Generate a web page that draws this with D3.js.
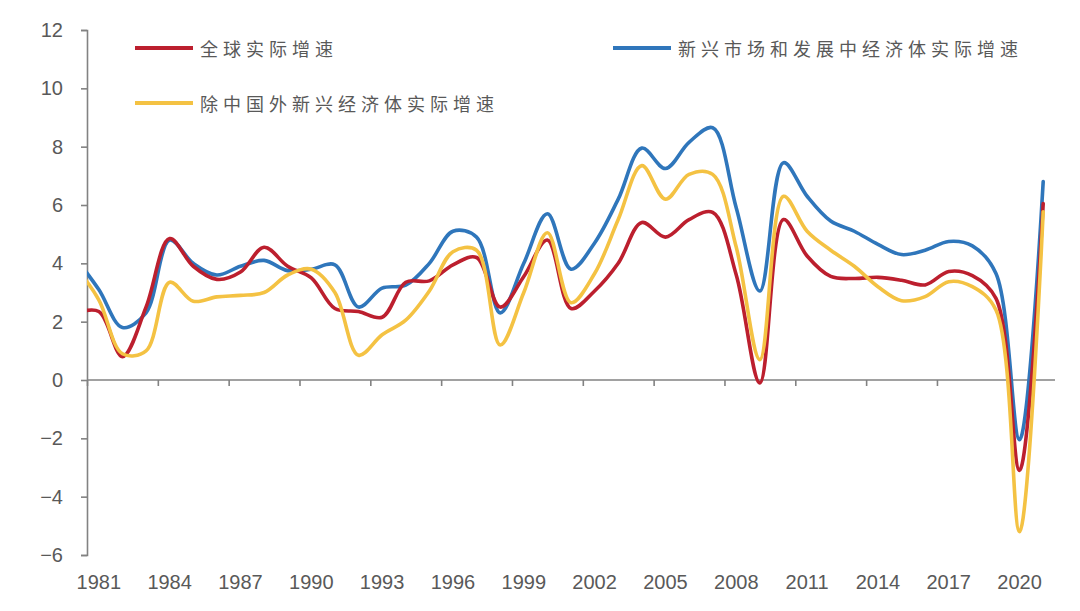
<!DOCTYPE html>
<html>
<head>
<meta charset="utf-8">
<script src="https://cdn.jsdelivr.net/npm/d3@7"></script>
<style>
  html, body { margin: 0; padding: 0; background: #ffffff; }
  svg { display: block; }
</style>
</head>
<body>
<svg id="chart" width="1080" height="611"></svg>
<script>
// ---------- data ----------
const years = d3.range(1980, 2022);
const worldGrowth = [2.3, 2.35, 0.8, 2.5, 4.85, 3.9, 3.45, 3.7, 4.55, 3.9,
  3.5, 2.45, 2.35, 2.15, 3.35, 3.4, 3.95, 4.2, 2.5, 3.55,
  4.8, 2.45, 3.05, 4.0, 5.4, 4.9, 5.5, 5.75, 3.6, -0.1,
  5.5, 4.25, 3.55, 3.48, 3.52, 3.42, 3.26, 3.72, 3.58, 2.8,
  -3.1, 6.05];
const emdeGrowth = [4.2, 3.1, 1.8, 2.3, 4.8, 4.0, 3.6, 3.9, 4.1, 3.75,
  3.8, 3.95, 2.5, 3.15, 3.25, 4.0, 5.1, 4.9, 2.3, 4.0,
  5.7, 3.8, 4.7, 6.2, 7.95, 7.25, 8.15, 8.65, 5.9, 3.05,
  7.45, 6.3, 5.45, 5.1, 4.65, 4.3, 4.45, 4.75, 4.6, 3.65,
  -2.05, 6.8];
const emdeExChinaGrowth = [3.9, 2.75, 0.9, 1.0, 3.35, 2.7, 2.85, 2.9, 3.0, 3.6,
  3.8, 3.0, 0.85, 1.55, 2.05, 3.05, 4.4, 4.45, 1.2, 3.0,
  5.05, 2.65, 3.65, 5.5, 7.35, 6.2, 7.05, 7.05, 4.55, 0.7,
  6.3, 5.1, 4.45, 3.9, 3.2, 2.72, 2.86, 3.37, 3.2, 2.4,
  -5.2, 5.77];
const seriesNames = ["全球实际增速", "新兴市场和发展中经济体实际增速", "除中国外新兴经济体实际增速"];
const seriesColors = ["#BC1F2E", "#2F76BB", "#F4C243"];
const yTicks = [-6, -4, -2, 0, 2, 4, 6, 8, 10, 12];
const xLabelYears = d3.range(1981, 2021, 3);

// ---------- layout ----------
const svg = d3.select("#chart");
const plotLeft = 87, plotRight = 1055, plotTop = 30, plotBottom = 555;

const x = d3.scaleLinear().domain([1980.5, 2021.5]).range([plotLeft, plotRight]);
const y = d3.scaleLinear().domain([-6, 12]).range([plotBottom, plotTop]);

const axisColor = "#828282";
const textColor = "#595959";

// clip
svg.append("defs").append("clipPath").attr("id", "plotclip")
  .append("rect").attr("x", plotLeft).attr("y", 0)
  .attr("width", plotRight - plotLeft + 10).attr("height", 611);

// y axis
const yAxis = d3.axisLeft(y).tickValues(yTicks).tickSize(6).tickPadding(18)
  .tickFormat(d3.format("d"));
const gy = svg.append("g").attr("transform", `translate(${plotLeft},0)`).call(yAxis);
gy.select(".domain").attr("stroke", axisColor).attr("stroke-width", 1.6);
gy.selectAll(".tick line").attr("stroke", axisColor).attr("stroke-width", 1.6);
gy.selectAll(".tick text").attr("fill", textColor)
  .style("font-family", "'Liberation Sans', Arial, sans-serif").style("font-size", "20px");

// x axis at y=0
const xTickVals = d3.range(1980.5, 2021.6, 3);
const xAxis = d3.axisBottom(x).tickValues(xTickVals).tickSize(6).tickFormat("");
const gx = svg.append("g").attr("transform", `translate(0,${y(0)})`).call(xAxis);
gx.select(".domain").attr("stroke", axisColor).attr("stroke-width", 1.6)
  .attr("d", `M${plotLeft},0H${plotRight}`);
gx.selectAll(".tick line").attr("stroke", axisColor).attr("stroke-width", 1.6);

// x labels at bottom
svg.append("g").selectAll("text").data(xLabelYears).join("text")
  .attr("x", d => x(d)).attr("y", 589)
  .attr("text-anchor", "middle")
  .attr("fill", textColor)
  .style("font-family", "'Liberation Sans', Arial, sans-serif").style("font-size", "20px")
  .text(d => d);

// lines
const allSeries = [worldGrowth, emdeGrowth, emdeExChinaGrowth];
const drawOrder = [1, 0, 2];
const line = d3.line()
  .x((d, i) => x(years[i]))
  .y(d => y(d))
  .curve(d3.curveCatmullRom.alpha(0.5));

const gl = svg.append("g").attr("clip-path", "url(#plotclip)");
drawOrder.forEach(k => {
  gl.append("path").datum(allSeries[k])
    .attr("d", line)
    .attr("fill", "none")
    .attr("stroke", seriesColors[k])
    .attr("stroke-width", 3.6)
    .attr("stroke-linejoin", "round")
    .attr("stroke-linecap", "round");
});

// legend
const legendItems = [
  { k: 0, x: 135, y: 48 },
  { k: 1, x: 613, y: 48 },
  { k: 2, x: 135, y: 103 }
];
const lg = svg.append("g");
legendItems.forEach(it => {
  lg.append("line")
    .attr("x1", it.x).attr("x2", it.x + 58)
    .attr("y1", it.y).attr("y2", it.y)
    .attr("stroke", seriesColors[it.k]).attr("stroke-width", 4);
  lg.append("text")
    .attr("x", it.x + 65).attr("y", it.y)
    .attr("dominant-baseline", "central")
    .attr("fill", textColor)
    .style("font-family", "'Noto Sans CJK SC', sans-serif")
    .style("font-size", "18px")
    .style("letter-spacing", "5px")
    .text(seriesNames[it.k]);
});
</script>
</body>
</html>
